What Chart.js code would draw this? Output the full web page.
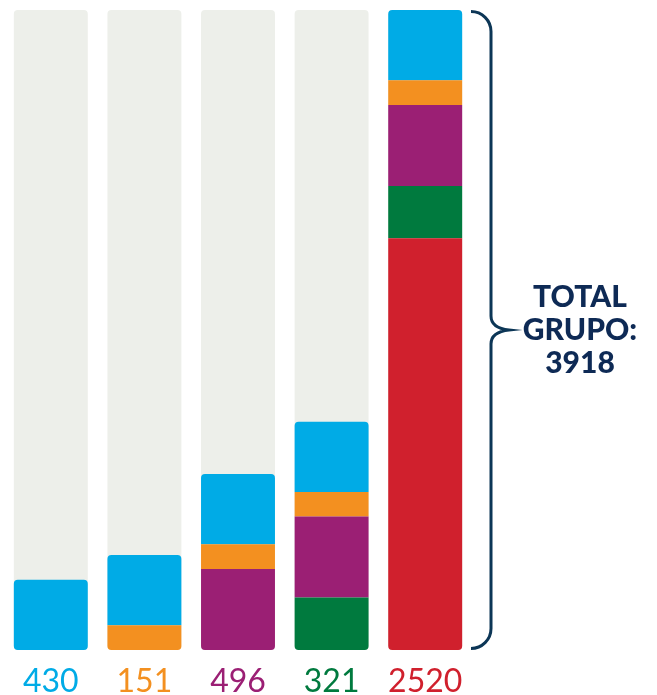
<!DOCTYPE html>
<html>
<head>
<meta charset="utf-8">
<script src="https://cdn.jsdelivr.net/npm/chart.js@4"></script>
<style>
html,body{margin:0;padding:0;background:#fff;}
#wrap{width:657px;height:695px;position:relative;}
</style>
</head>
<body>
<div id="wrap"><canvas id="c" width="657" height="695"></canvas></div>
<script>
const categories = ['430', '151', '496', '321', '2520'];
const blueValues   = [430, 430, 430, 430, 430];
const orangeValues = [null, 151, 151, 151, 151];
const purpleValues = [null, null, 496, 496, 496];
const greenValues  = [null, null, null, 321, 321];
const redValues    = [null, null, null, null, 2520];
const totalValue = 3918;
const backgroundValues = [3918, 3918, 3918, 3918, 3918];
const labelColors = ['#00abe6', '#f39020', '#9b1f74', '#007a3e', '#d0202d'];
const totalLines = ['TOTAL', 'GRUPO:', '3918'];

const seriesList = [redValues, greenValues, purpleValues, orangeValues, blueValues];
const R = 4;
function radiusFor(dsIdx) {
  return function(ctx) {
    const i = ctx.dataIndex;
    let first = -1, last = -1;
    seriesList.forEach((s, k) => { if (s[i] != null) { if (first < 0) first = k; last = k; } });
    const top = dsIdx === last ? R : 0;
    const bot = dsIdx === first ? R : 0;
    return {topLeft: top, topRight: top, bottomLeft: bot, bottomRight: bot};
  };
}
const common = {stack: 'main', grouped: false, borderSkipped: false, barPercentage: 0.79, categoryPercentage: 1.0, order: 1};

const bracePlugin = {
  id: 'brace',
  afterDraw(chart) {
    const ctx = chart.ctx;
    const a = chart.chartArea;
    const top = a.top, bot = a.bottom, mid = (top + bot) / 2;
    const x0 = a.right - 1, x1 = x0 + 20, xp = x1 + 18;
    ctx.save();
    ctx.strokeStyle = '#0c3656';
    ctx.lineWidth = 3;
    ctx.lineCap = 'butt';
    ctx.beginPath();
    ctx.moveTo(x0, top + 1.5);
    ctx.arcTo(x1, top + 1.5, x1, top + 22, 20);
    ctx.lineTo(x1, mid - 14);
    ctx.quadraticCurveTo(x1, mid - 2, xp, mid);
    ctx.quadraticCurveTo(x1, mid + 2, x1, mid + 14);
    ctx.lineTo(x1, bot - 22);
    ctx.arcTo(x1, bot - 1.5, x0, bot - 1.5, 20);
    ctx.lineTo(x0, bot - 1.5);
    ctx.stroke();
    ctx.fillStyle = '#0e2a55';
    ctx.font = '900 30px Lato';
    ctx.textAlign = 'center';
    ctx.textBaseline = 'alphabetic';
    const cx = 580;
    totalLines.forEach((t, k) => ctx.fillText(t, cx, mid - 23 + k * 33));
    // category value labels under bars, positioned by the x scale
    const xs = chart.scales.x;
    ctx.font = '400 32px Lato';
    ctx.textBaseline = 'alphabetic';
    categories.forEach((lab, i) => {
      ctx.fillStyle = labelColors[i];
      ctx.fillText(lab, xs.getPixelForValue(i), bot + 42);
    });
    ctx.restore();
  }
};

new Chart(document.getElementById('c'), {
  type: 'bar',
  data: {
    labels: categories,
    datasets: [
      Object.assign({}, common, {label: 'Rojo', data: redValues, backgroundColor: '#d0202d', borderRadius: radiusFor(0)}),
      Object.assign({}, common, {label: 'Verde', data: greenValues, backgroundColor: '#007a3e', borderRadius: radiusFor(1)}),
      Object.assign({}, common, {label: 'Morado', data: purpleValues, backgroundColor: '#9b1f74', borderRadius: radiusFor(2)}),
      Object.assign({}, common, {label: 'Naranja', data: orangeValues, backgroundColor: '#f39020', borderRadius: radiusFor(3)}),
      Object.assign({}, common, {label: 'Azul', data: blueValues, backgroundColor: '#00abe6', borderRadius: radiusFor(4)}),
      {label: 'Fondo', data: backgroundValues, backgroundColor: '#edefea', stack: 'bg', grouped: false, borderSkipped: false, borderRadius: R, barPercentage: 0.79, categoryPercentage: 1.0, order: 10}
    ]
  },
  options: {
    responsive: false,
    animation: false,
    devicePixelRatio: 1,
    layout: {padding: {left: 4, right: 185, top: 10, bottom: 45}},
    plugins: {legend: {display: false}, tooltip: {enabled: false}},
    scales: {
      x: {
        stacked: true,
        display: false
      },
      y: {
        stacked: true,
        display: false,
        min: 0,
        max: totalValue
      }
    }
  },
  plugins: [bracePlugin]
});
</script>
</body>
</html>
